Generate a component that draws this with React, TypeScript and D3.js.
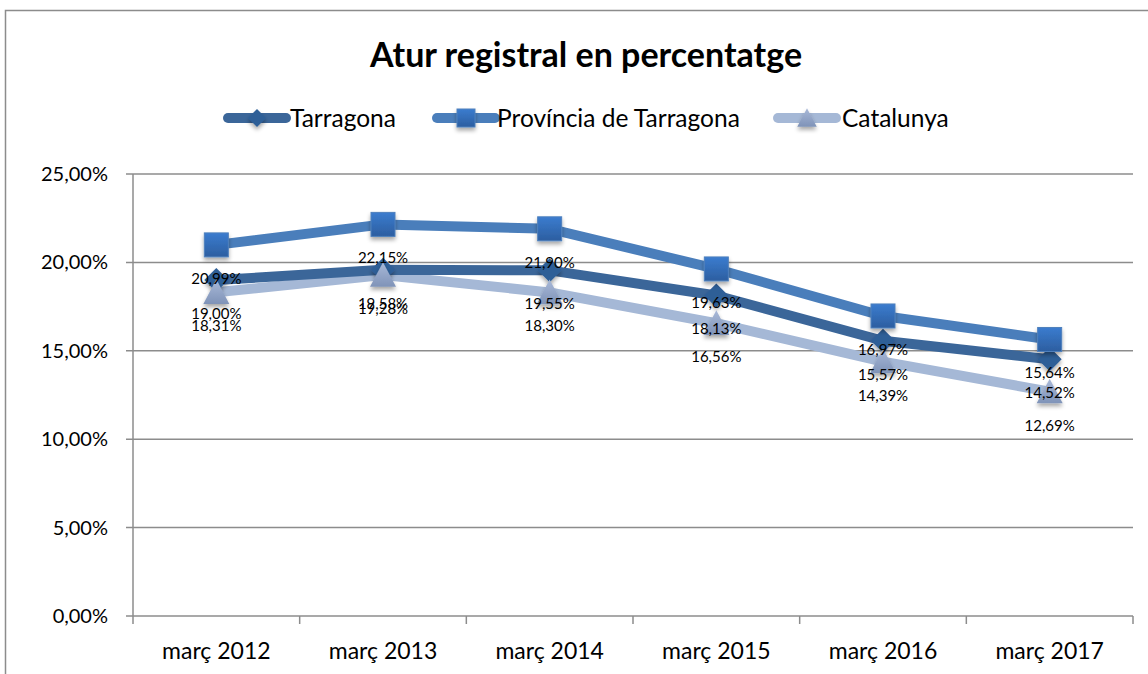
import React from "react";
import * as d3 from "d3";

const categories = ["març 2012", "març 2013", "març 2014", "març 2015", "març 2016", "març 2017"];
const tarragona = [19.0, 19.58, 19.55, 18.13, 15.57, 14.52];
const provincia = [20.99, 22.15, 21.9, 19.63, 16.97, 15.64];
const catalunya = [18.31, 19.28, 18.3, 16.56, 14.39, 12.69];
const yTicks = [0, 5, 10, 15, 20, 25];
const seriesNames = ["Tarragona", "Província de Tarragona", "Catalunya"];

const W = 1148, H = 674;
const left = 133, right = 1133, top = 174, bottom = 616;
const FONT = "Lato, 'Open Sans', sans-serif";

const fmt = (v: number) => v.toFixed(2).replace(".", ",") + "%";

export default function App() {
  const x = d3.scaleBand<string>().domain(categories).range([left, right]);
  const y = d3.scaleLinear().domain([0, 25]).range([bottom, top]);
  const cx = (c: string) => (x(c) as number) + x.bandwidth() / 2;
  const line = d3.line<number>().x((_, i) => cx(categories[i])).y((d) => y(d));

  const series = [
    { name: seriesNames[0], data: tarragona, color: "#3B6699", marker: "diamond", mk: "#2F5E97" },
    { name: seriesNames[1], data: provincia, color: "#4A7EBB", marker: "square", mk: "#3871BC" },
    { name: seriesNames[2], data: catalunya, color: "#A5B8D6", marker: "triangle", mk: "#8A9CBF" },
  ];

  const marker = (type: string, px: number, py: number, fill: string, key: string, scale = 1) => {
    if (type === "square") {
      const s = 24 * scale;
      return <rect key={key} x={px - s / 2} y={py - s / 2} width={s} height={s} fill="url(#gSq)" stroke="#4F81BD" strokeWidth={1} filter="url(#sh)" />;
    }
    if (type === "diamond") {
      const s = 12 * scale;
      return <path key={key} d={`M${px},${py - s} L${px + s},${py} L${px},${py + s} L${px - s},${py} Z`} fill={fill} filter="url(#sh)" />;
    }
    const s = 13 * scale;
    return <path key={key} d={`M${px},${py - s} L${px + s},${py + s * 0.9} L${px - s},${py + s * 0.9} Z`} fill="url(#gTr)" filter="url(#sh)" />;
  };

  const legendItems = [
    { x: 228, tx: 290 },
    { x: 437, tx: 497 },
    { x: 778, tx: 842 },
  ];

  return (
    <svg width={W} height={H} style={{ position: "absolute", left: 0, top: 0, background: "#fff" }}>
      <defs>
        <linearGradient id="gSq" x1="0" y1="0" x2="0" y2="1">
          <stop offset="0" stopColor="#3B7CCF" />
          <stop offset="1" stopColor="#2C5EA0" />
        </linearGradient>
        <linearGradient id="gTr" x1="0" y1="0" x2="0" y2="1">
          <stop offset="0" stopColor="#A9B9D8" />
          <stop offset="1" stopColor="#7F93B8" />
        </linearGradient>
        <filter id="sh" x="-50%" y="-50%" width="200%" height="200%">
          <feGaussianBlur in="SourceAlpha" stdDeviation="2" />
          <feOffset dx="0" dy="3" result="b" />
          <feComponentTransfer><feFuncA type="linear" slope="0.35" /></feComponentTransfer>
          <feMerge><feMergeNode /><feMergeNode in="SourceGraphic" /></feMerge>
        </filter>
      </defs>
      <rect x={5.5} y={10.5} width={W + 10} height={H + 10} fill="#fff" stroke="#8c8c8c" strokeWidth={1.5} />
      <text x={586} y={67} textAnchor="middle" fontFamily={FONT} fontWeight="bold" fontSize={34} fill="#000">
        Atur registral en percentatge
      </text>
      {series.map((s, i) => (
        <g key={s.name}>
          <line x1={legendItems[i].x} x2={legendItems[i].x + 58} y1={118} y2={118} stroke={s.color} strokeWidth={10} strokeLinecap="round" />
          {marker(s.marker, legendItems[i].x + 29, 118, s.mk, "lm" + i, 0.75)}
          <text x={legendItems[i].tx} y={127} fontFamily={FONT} fontSize={24.5} fill="#000">{s.name}</text>
        </g>
      ))}
      {yTicks.map((t) => (
        <g key={t}>
          <line x1={left - 7} x2={right} y1={y(t)} y2={y(t)} stroke="#8c8c8c" strokeWidth={1.5} />
          <text x={108} y={y(t) + 7} textAnchor="end" fontFamily={FONT} fontSize={20} fill="#000">{fmt(t)}</text>
        </g>
      ))}
      <line x1={left} x2={left} y1={top} y2={bottom} stroke="#8c8c8c" strokeWidth={1.5} />
      {d3.range(categories.length + 1).map((i) => {
        const xx = left + i * x.bandwidth();
        return <line key={i} x1={xx} x2={xx} y1={bottom} y2={bottom + 8} stroke="#8c8c8c" strokeWidth={1.5} />;
      })}
      {categories.map((c) => (
        <text key={c} x={cx(c)} y={659} textAnchor="middle" fontFamily={FONT} fontSize={23} fill="#000">{c}</text>
      ))}
      {[...series].reverse().map((s) => (
        <path key={s.name} d={line(s.data) as string} fill="none" stroke={s.color} strokeWidth={10} strokeLinejoin="round" />
      ))}
      {series.map((s) => s.data.map((v, i) => marker(s.marker, cx(categories[i]), y(v), s.mk, s.name + i)))}
      {series.map((s) =>
        s.data.map((v, i) => (
          <text key={"l" + s.name + i} x={cx(categories[i])} y={y(v) + 39} textAnchor="middle" fontFamily={FONT} fontSize={15} fill="#000">
            {fmt(v)}
          </text>
        ))
      )}
    </svg>
  );
}
